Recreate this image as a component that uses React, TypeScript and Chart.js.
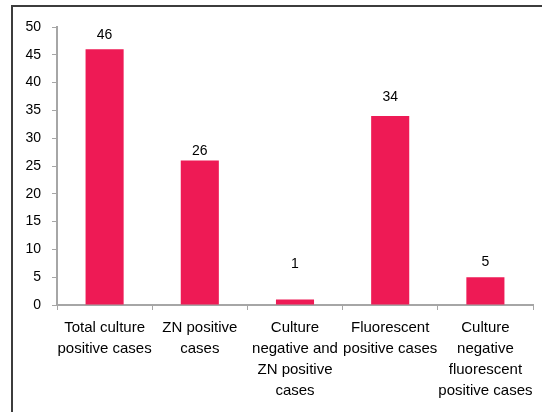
import React, { useEffect, useRef } from "react";
import { Chart, registerables } from "chart.js";

Chart.register(...registerables);

const categories: string[][] = [
  ["Total culture", "positive cases"],
  ["ZN positive", "cases"],
  ["Culture", "negative and", "ZN positive", "cases"],
  ["Fluorescent", "positive cases"],
  ["Culture", "negative", "fluorescent", "positive cases"],
];
const values: number[] = [46, 26, 1, 34, 5];
const yTicks: number[] = [0, 5, 10, 15, 20, 25, 30, 35, 40, 45, 50];

// vertical gap (px) between bar top and centre of its value label, as placed in the reference
const labelGaps = [14, 9, 35, 19, 15];

const FONT = "'Liberation Sans', Arial, sans-serif";
const BAR = "#EE1A55";
const AXIS = "#A6A6A6";

const valueLabels = {
  id: "valueLabels",
  afterDatasetsDraw(chart: any) {
    const ctx = chart.ctx;
    const meta = chart.getDatasetMeta(0);
    ctx.save();
    ctx.font = `14px ${FONT}`;
    ctx.fillStyle = "#000";
    ctx.textAlign = "center";
    ctx.textBaseline = "middle";
    meta.data.forEach((bar: any, i: number) => {
      const v = chart.data.datasets[0].data[i];
      ctx.fillText(String(v), bar.x, bar.y - labelGaps[i]);
    });
    ctx.restore();
  },
};

export default function App() {
  const ref = useRef<HTMLCanvasElement | null>(null);
  useEffect(() => {
    if (!ref.current) return;
    const chart = new Chart(ref.current, {
      type: "bar",
      data: {
        labels: categories as any,
        datasets: [
          {
            data: values,
            backgroundColor: BAR,
            borderWidth: 0,
            categoryPercentage: 0.8,
            barPercentage: 0.5,
          },
        ],
      },
      options: {
        animation: false,
        responsive: false,
        devicePixelRatio: 1,
        layout: { padding: { left: 0, right: 9, top: 27, bottom: 0 } },
        plugins: { legend: { display: false }, tooltip: { enabled: false } },
        scales: {
          x: {
            grid: {
              display: true,
              drawOnChartArea: false,
              tickLength: 5,
              color: AXIS,
              offset: true,
            },
            border: { display: true, color: AXIS, width: 2 },
            ticks: {
              color: "#000",
              font: { family: FONT, size: 15, lineHeight: 1.4 },
              padding: 7,
              maxRotation: 0,
              autoSkip: false,
            },
            afterFit: (s: any) => {
              s.height = 107;
            },
          },
          y: {
            min: 0,
            max: 50,
            afterBuildTicks: (s: any) => {
              s.ticks = yTicks.map((v) => ({ value: v }));
            },
            grid: {
              display: true,
              drawOnChartArea: false,
              tickLength: 5,
              color: AXIS,
            },
            border: { display: true, color: AXIS, width: 2 },
            ticks: {
              color: "#000",
              font: { family: FONT, size: 14 },
              padding: 11,
            },
            afterFit: (s: any) => {
              s.width = 57;
            },
          },
        },
      },
      plugins: [valueLabels],
    });
    return () => chart.destroy();
  }, []);
  return (
    <div style={{ position: "absolute", left: 0, top: 0, width: 542, height: 412, background: "#fff" }}>
      <div
        style={{
          position: "absolute",
          left: 11,
          top: 5,
          width: 531,
          height: 407,
          borderLeft: "2px solid #3c3c3c",
          borderTop: "2px solid #3c3c3c",
        }}
      />
      <canvas ref={ref} width={542} height={412} style={{ position: "absolute", left: 0, top: 0 }} />
    </div>
  );
}
